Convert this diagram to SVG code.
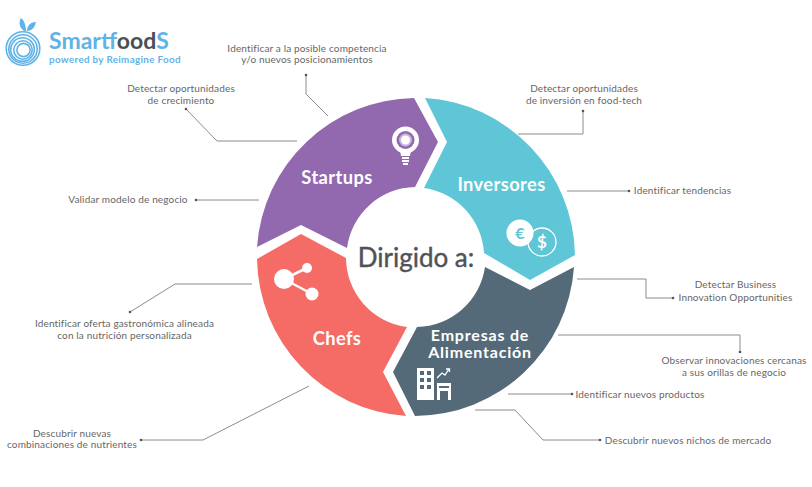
<svg xmlns="http://www.w3.org/2000/svg" width="812" height="487" viewBox="0 0 812 487">
<style>
.t{font-family:Lato,"Liberation Sans",sans-serif;font-size:10px;fill:#666;text-anchor:middle;letter-spacing:.15px}
.h{font-family:Lato,"Liberation Sans",sans-serif;font-weight:700;font-size:18.3px;fill:#fff;text-anchor:middle;letter-spacing:.4px}
.e{font-family:Lato,"Liberation Sans",sans-serif;font-weight:700;font-size:16px;fill:#fff;text-anchor:middle;letter-spacing:.8px}
.c{fill:none;stroke:#8c8c8c;stroke-width:1}
.d{fill:#555}
.r{fill:none;stroke:#5fb3e6;stroke-width:1.6}
.w{fill:#fff}
.l{fill:#5fb3e6}
</style>
<rect width="812" height="487" fill="#fff"/>
<g id="logo">
<circle class="r" cx="23" cy="48.500" r="16.800"/>
<circle class="r" cx="23" cy="49" r="14.200"/>
<circle class="r" cx="22.500" cy="49.500" r="11.800"/>
<circle class="r" cx="23" cy="50" r="9.200"/>
<circle class="r" cx="23.500" cy="50" r="6.600"/>
<path class="l" d="M24 31C20 28 18 23 21 18C24 20 26 25 26 31ZM27 31C27 26 30 22 36 22C35 27 32 31 27 31Z"/>
<text x="49" y="49" font-family="Lato,'Liberation Sans',sans-serif" font-weight="700" font-size="23px"><tspan fill="#5fb3e6">Smart</tspan><tspan fill="#4a4f55">food</tspan><tspan fill="#5fb3e6">S</tspan></text>
<text x="49" y="63" font-family="Lato,'Liberation Sans',sans-serif" font-weight="700" font-size="9.800px" letter-spacing=".35" fill="#5fb3e6">powered by Reimagine Food</text>
</g>
<g id="connectors">
<path class="c" d="M328 116L306 94V75"/>
<path class="c" d="M297 141H217L186 109"/>
<path class="c" d="M259 200H196"/>
<path class="c" d="M518 134H583V111"/>
<path class="c" d="M567 191H629"/>
<path class="c" d="M577 279H646V298H673"/>
<path class="c" d="M558 335H740V352"/>
<path class="c" d="M508 394H572"/>
<path class="c" d="M475 410H515L543 440H600"/>
<path class="c" d="M252 284H175L130 312"/>
<path class="c" d="M309 386L203 440H141"/>
<circle class="d" cx="196" cy="200" r="1.300"/>
<circle class="d" cx="629" cy="191" r="1.300"/>
<circle class="d" cx="572" cy="394" r="1.300"/>
<circle class="d" cx="600" cy="440" r="1.300"/>
<circle class="d" cx="130" cy="312" r="1.300"/>
<circle class="d" cx="141" cy="440" r="1.300"/>
<circle class="d" cx="740" cy="352" r="1.300"/>
<circle class="d" cx="673" cy="298" r="1.300"/>
<circle class="d" cx="583" cy="111" r="1.300"/>
<circle class="d" cx="186" cy="109" r="1.300"/>
<circle class="d" cx="306" cy="75" r="1.300"/>
</g>
<g id="startups">
<path fill="#9268ae" d="M414 98L438 142L415 187A70 70 0 0 0 347 248L301 225L257 247A160 160 0 0 1 414 98Z"/>
<text class="h" x="337" y="184">Startups</text>
<circle class="w" cx="405.500" cy="140" r="13.500"/>
<circle cx="405.500" cy="140" r="9" fill="#9268ae"/>
<circle cx="405.500" cy="140" r="6.500" fill="#c9b6d8"/>
<circle class="w" cx="405.500" cy="140" r="4.500"/>
<path class="w" d="M400 150H411L410 156H401Z"/>
<path class="w" d="M402 157H409V159H402ZM402 160H409V162H402ZM403 163H408V165H403Z"/>
</g>
<g id="inversores">
<path fill="#5ec6d6" d="M425 98A160 160 0 0 1 575 255L530 280L484 253A70 70 0 0 0 424 188L447 142Z"/>
<text class="h" x="501.500" y="191">Inversores</text>
<circle cx="542" cy="242" r="14" fill="#5ec6d6" stroke="#fff" stroke-width="1.300"/>
<circle class="w" cx="520" cy="233" r="13.500"/>
<text x="520" y="238.500" font-family="Lato,'Liberation Sans',sans-serif" font-weight="700" font-size="16px" fill="#5ec6d6" text-anchor="middle">€</text>
<text x="542" y="248" font-family="Lato,'Liberation Sans',sans-serif" font-weight="700" font-size="17px" fill="#fff" text-anchor="middle">$</text>
</g>
<g id="empresas">
<path fill="#546a79" d="M485 267L530 290L574 267A160 160 0 0 1 415 416L393 372L417 327A70 70 0 0 0 485 267Z"/>
<text class="e" x="480" y="341">Empresas de</text>
<text class="e" x="480" y="357.500">Alimentación</text>
<path class="w" fill-rule="evenodd" d="M417 368H434V400H417ZM420 371V375H424V371ZM427 371V375H431V371ZM420 378V382H424V378ZM427 378V382H431V378ZM420 385V389H424V385ZM427 385V389H431V385Z"/>
<path class="w" fill-rule="evenodd" d="M437 383H451V400H448V391H440V400H437ZM439 386V388H449V386Z"/>
<path d="M437 378L442 373L445 375L449 369M446 369H449.500V372" fill="none" stroke="#fff" stroke-width="1.300"/>
</g>
<g id="chefs">
<path fill="#f46c65" d="M257 259L301 234L346 258A70 70 0 0 0 407 327L383 372L406 416A160 160 0 0 1 257 259Z"/>
<text class="h" x="337" y="345">Chefs</text>
<path d="M284 279L307 268M284 279L312 294" stroke="#fff" stroke-width="2.500" fill="none"/>
<circle class="w" cx="284" cy="279" r="10"/>
<circle class="w" cx="307" cy="268" r="5"/>
<circle class="w" cx="312" cy="294" r="6.500"/>
</g>
<g id="center">
<text x="416" y="267" font-family="Lato,'Liberation Sans',sans-serif" font-size="26px" fill="#4f5358" stroke="#4f5358" stroke-width=".4" text-anchor="middle">Dirigido a:</text>
</g>
<g id="labels">
<text class="t" x="307" y="51.500">Identificar a la posible competencia</text>
<text class="t" x="307" y="63">y/o nuevos posicionamientos</text>
<text class="t" x="181" y="92">Detectar oportunidades</text>
<text class="t" x="181" y="104">de crecimiento</text>
<text class="t" x="128" y="203">Validar modelo de negocio</text>
<text class="t" x="584" y="92">Detectar oportunidades</text>
<text class="t" x="584" y="104">de inversión en food-tech</text>
<text class="t" x="682.500" y="193.500">Identificar tendencias</text>
<text class="t" x="735.500" y="288">Detectar Business</text>
<text class="t" x="735.500" y="300.500">Innovation Opportunities</text>
<text class="t" x="734" y="364">Observar innovaciones cercanas</text>
<text class="t" x="734" y="376">a sus orillas de negocio</text>
<text class="t" x="640" y="397.500">Identificar nuevos productos</text>
<text class="t" x="688" y="444">Descubrir nuevos nichos de mercado</text>
<text class="t" x="124.500" y="327">Identificar oferta gastronómica alineada</text>
<text class="t" x="124.500" y="339">con la nutrición personalizada</text>
<text class="t" x="72" y="436.500">Descubrir nuevas</text>
<text class="t" x="72" y="448">combinaciones de nutrientes</text>
</g>
</svg>
